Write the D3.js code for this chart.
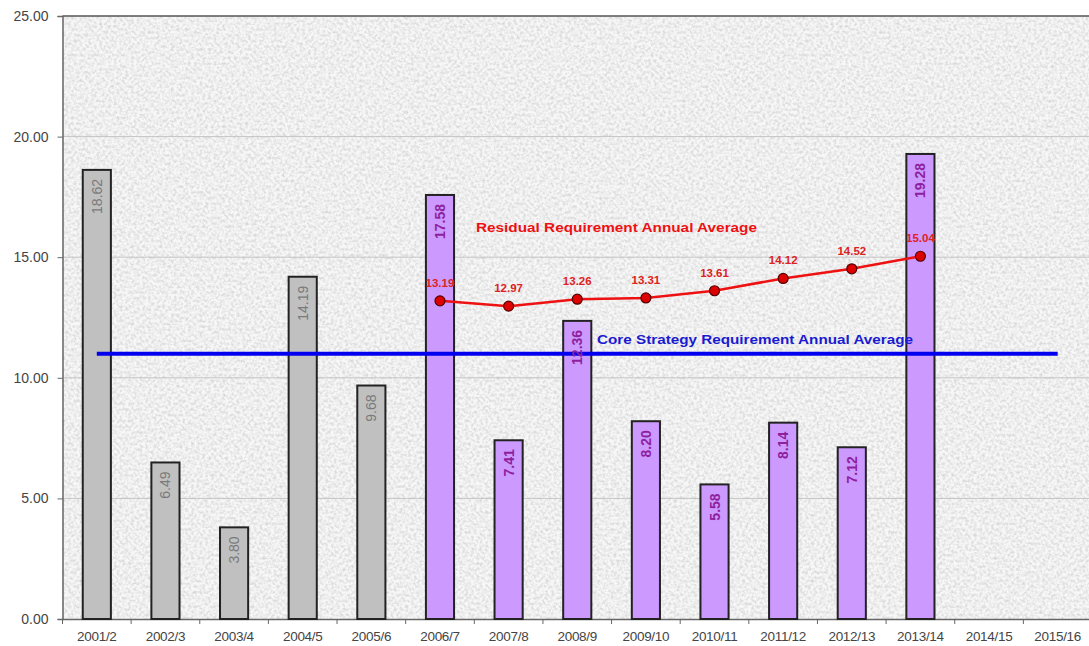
<!DOCTYPE html>
<html><head><meta charset="utf-8">
<script src="https://cdn.jsdelivr.net/npm/d3@7"></script>
<style>body{margin:0;background:#fff}svg{display:block}</style>
</head><body>
<svg id="c" width="1089" height="646"></svg>
<script>
const categories = ["2001/2","2002/3","2003/4","2004/5","2005/6","2006/7","2007/8","2008/9","2009/10","2010/11","2011/12","2012/13","2013/14","2014/15","2015/16"];
const barValues = [18.62,6.49,3.80,14.19,9.68,17.58,7.41,12.36,8.20,5.58,8.14,7.12,19.28,null,null];
const barGroup = ["past","past","past","past","past","plan","plan","plan","plan","plan","plan","plan","plan",null,null];
const residualCats = ["2006/7","2007/8","2008/9","2009/10","2010/11","2011/12","2012/13","2013/14"];
const residualValues = [13.19,12.97,13.26,13.31,13.61,14.12,14.52,15.04];
const coreValue = 11;
const coreRange = ["2001/2","2015/16"];
const yTicks = [0,5,10,15,20,25];
const residualLabel = "Residual Requirement Annual Average";
const coreLabel = "Core Strategy Requirement Annual Average";

const FONT = "Liberation Sans, Arial, sans-serif";
const svg = d3.select("#c");
const m = {l:62.5, t:16, r:-3, b:27};
const W = 1089, H = 646;
const x = d3.scaleBand().domain(categories).range([m.l, W - m.r]).paddingInner(0.59).paddingOuter(0.295);
const xc = d => x(d) + x.bandwidth()/2;
const y = d3.scaleLinear().domain([0,25]).range([H - m.b, m.t]);

const defs = svg.append("defs");
const f = defs.append("filter").attr("id","noise").attr("x",0).attr("y",0).attr("width","100%").attr("height","100%")
 .attr("color-interpolation-filters","sRGB");
f.append("feTurbulence").attr("type","fractalNoise").attr("baseFrequency",0.35).attr("numOctaves",2).attr("seed",7).attr("result","n");
f.append("feColorMatrix").attr("type","matrix")
 .attr("values","0.45 0 0 0 0.72  0.45 0 0 0 0.72  0.45 0 0 0 0.72  0 0 0 0 1");

// plot background
svg.append("rect").attr("x",m.l).attr("y",m.t).attr("width",W-m.l).attr("height",y(0)-m.t).attr("fill","#ebebeb");
svg.append("rect").attr("x",m.l).attr("y",m.t).attr("width",W-m.l).attr("height",y(0)-m.t).attr("fill","#ebebeb").attr("filter","url(#noise)").attr("opacity",0.6);

// gridlines
svg.append("g").selectAll("line").data(yTicks.filter(v=>v>0 && v<25)).join("line")
 .attr("x1",m.l).attr("x2",W).attr("y1",d=>y(d)).attr("y2",d=>y(d)).attr("stroke","#c4c4c4").attr("stroke-width",1);
svg.append("line").attr("x1",m.l).attr("x2",W).attr("y1",y(25)).attr("y2",y(25)).attr("stroke","#555").attr("stroke-width",1.5);

// y axis
const ya = svg.append("g").attr("transform",`translate(${m.l},0)`).call(d3.axisLeft(y).tickValues(yTicks).tickFormat(d3.format(".2f")).tickSize(5).tickPadding(9));
ya.select(".domain").attr("stroke","#666").attr("stroke-width",1.5);
ya.selectAll(".tick line").attr("stroke","#666");
ya.selectAll("text").attr("font-family",FONT).attr("font-size",14).attr("fill","#444");

// x axis
const xa = svg.append("g").attr("transform",`translate(0,${y(0)})`).call(d3.axisBottom(x).tickSize(0).tickPadding(12));
xa.select(".domain").attr("stroke","#666").attr("stroke-width",1.5);
xa.selectAll("text").attr("font-family",FONT).attr("font-size",13.5).attr("fill","#444").attr("letter-spacing","-0.3");
svg.append("g").selectAll("line").data(categories).join("line")
 .attr("x1",d=>x(d)-x.step()*x.paddingInner()/2).attr("x2",d=>x(d)-x.step()*x.paddingInner()/2)
 .attr("y1",y(0)).attr("y2",y(0)+5).attr("stroke","#666");

// bars
const bd = categories.map((c,i)=>({c, v:barValues[i], g:barGroup[i]})).filter(d=>d.v!=null);
svg.append("g").selectAll("rect").data(bd).join("rect")
 .attr("x",d=>x(d.c)).attr("width",x.bandwidth())
 .attr("y",d=>y(d.v)).attr("height",d=>y(0)-y(d.v))
 .attr("fill",d=>d.g==="past"?"#c0c0c0":"#cc99ff").attr("stroke","#222").attr("stroke-width",2);

// core line
svg.append("line").attr("x1",xc(coreRange[0])).attr("x2",xc(coreRange[1]))
 .attr("y1",y(coreValue)).attr("y2",y(coreValue)).attr("stroke","#0000ee").attr("stroke-width",4);

// bar labels
svg.append("g").selectAll("text").data(bd).join("text")
 .attr("transform",d=>`translate(${xc(d.c)+5},${y(d.v)+9}) rotate(-90)`)
 .attr("text-anchor","end").attr("font-family",FONT).attr("font-size",14)
 .attr("font-weight",d=>d.g==="past"?"normal":"bold")
 .attr("fill",d=>d.g==="past"?"#7a7a7a":"#8e1f9e").text(d=>d3.format(".2f")(d.v));

// residual line
const line = d3.line().x((d,i)=>xc(residualCats[i])).y(d=>y(d));
svg.append("path").datum(residualValues).attr("d",line).attr("fill","none").attr("stroke","#ee1111").attr("stroke-width",2.5);
svg.append("g").selectAll("circle").data(residualValues).join("circle")
 .attr("cx",(d,i)=>xc(residualCats[i])).attr("cy",d=>y(d)).attr("r",5)
 .attr("fill","#dd0000").attr("stroke","#550000").attr("stroke-width",1.2);
svg.append("g").selectAll("text").data(residualValues).join("text")
 .attr("x",(d,i)=>xc(residualCats[i])).attr("y",d=>y(d)-14)
 .attr("text-anchor","middle").attr("font-family",FONT).attr("font-size",11.5).attr("font-weight","bold")
 .attr("fill","#dd2222").text(d=>d3.format(".2f")(d));

// series labels
svg.append("text").attr("x",476).attr("y",y(16.05)).attr("font-family",FONT).attr("font-size",13.5).attr("font-weight","bold").attr("fill","#e11")
 .attr("textLength",281).attr("lengthAdjust","spacingAndGlyphs").text(residualLabel);
svg.append("text").attr("x",597).attr("y",y(11.4)).attr("font-family",FONT).attr("font-size",13.5).attr("font-weight","bold").attr("fill","#1a1ad0")
 .attr("textLength",316).attr("lengthAdjust","spacingAndGlyphs").text(coreLabel);
</script>
</body></html>
